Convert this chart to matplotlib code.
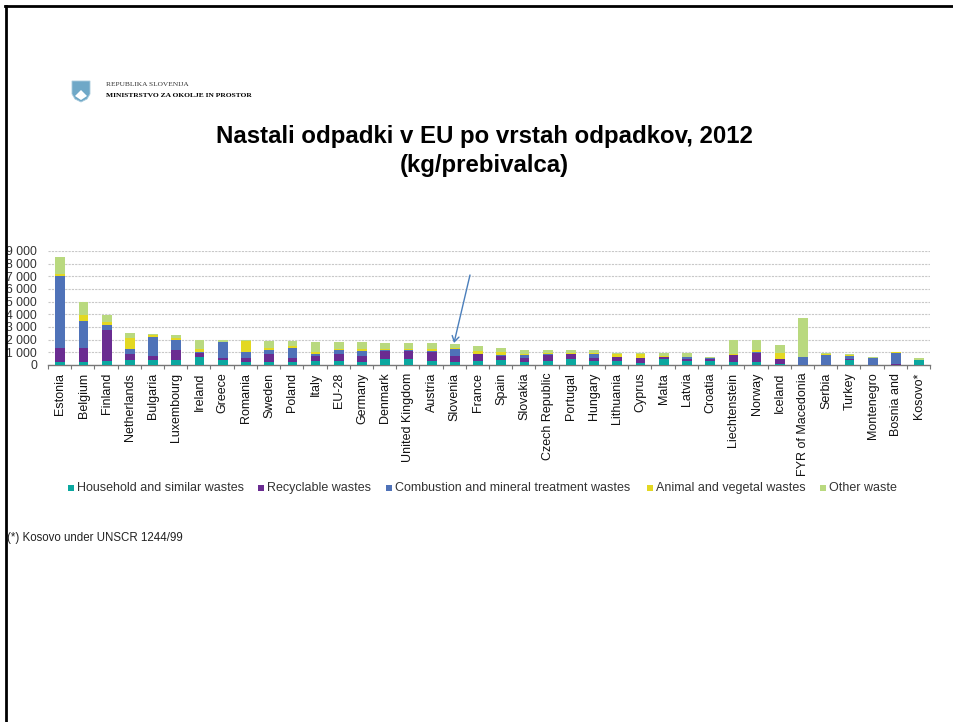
import numpy as np
import matplotlib
matplotlib.use("Agg")
import matplotlib.pyplot as plt
from matplotlib.patches import FancyArrowPatch, Rectangle, Polygon
from matplotlib.lines import Line2D

categories = ["Estonia", "Belgium", "Finland", "Netherlands", "Bulgaria", "Luxembourg", "Ireland", "Greece",
              "Romania", "Sweden", "Poland", "Italy", "EU-28", "Germany", "Denmark", "United Kingdom", "Austria",
              "Slovenia", "France", "Spain", "Slovakia", "Czech Republic", "Portugal", "Hungary", "Lithuania",
              "Cyprus", "Malta", "Latvia", "Croatia", "Liechtenstein", "Norway", "Iceland", "FYR of Macedonia",
              "Serbia", "Turkey", "Montenegro", "Bosnia and", "Kosovo*"]
household = [250, 250, 300, 400, 400, 400, 650, 400, 250, 250, 250, 300, 300, 250, 450, 450, 300, 250, 300, 400,
             250, 300, 450, 300, 300, 150, 450, 300, 300, 250, 250, 100, 0, 10, 400, 10, 20, 400]
recyclable = [1100, 1100, 2500, 500, 300, 800, 300, 150, 300, 600, 300, 400, 550, 450, 650, 650, 700, 450, 550, 300,
              300, 500, 400, 250, 300, 400, 150, 150, 150, 550, 700, 350, 20, 10, 50, 10, 80, 5]
combustion = [5700, 2100, 350, 350, 1500, 750, 100, 1250, 450, 300, 800, 200, 350, 400, 100, 100, 100, 550, 50, 100,
              250, 100, 50, 350, 20, 20, 50, 150, 100, 20, 50, 20, 600, 780, 250, 550, 880, 5]
animal = [100, 500, 250, 900, 150, 200, 250, 50, 900, 200, 150, 150, 100, 200, 50, 50, 200, 100, 200, 250,
          100, 50, 50, 50, 280, 280, 50, 50, 20, 80, 200, 480, 20, 80, 50, 10, 20, 10]
other = [1400, 1050, 550, 400, 100, 250, 700, 150, 100, 550, 400, 750, 500, 500, 450, 450, 400, 300, 400, 300,
         300, 250, 200, 200, 50, 100, 250, 300, 30, 1100, 800, 600, 3060, 70, 100, 40, 50, 130]
series_names = ["Household and similar wastes", "Recyclable wastes", "Combustion and mineral treatment wastes",
                "Animal and vegetal wastes", "Other waste"]
series_values = [household, recyclable, combustion, animal, other]
series_colors = ["#0BA8A0", "#6A2C91", "#4F72B8", "#E3D822", "#B9D97F"]
y_ticks = [0, 1000, 2000, 3000, 4000, 5000, 6000, 7000, 8000, 9000]
y_tick_labels = ["0", "1 000", "2 000", "3 000", "4 000", "5 000", "6 000", "7 000", "8 000", "9 000"]

W, H = 954, 722
plt.rcParams["font.family"] = ["Liberation Sans", "DejaVu Sans"]
fig = plt.figure(figsize=(W / 100, H / 100), dpi=100)
fx = lambda p: p / W
fy = lambda p: 1 - p / H

ax = fig.add_axes([fx(48), fy(365), (930 - 48) / W, (365 - 251) / H])
x = np.arange(len(categories))
bottom = np.zeros(len(categories))
for name, vals, col in zip(series_names, series_values, series_colors):
    vals = np.array(vals, dtype=float)
    ax.bar(x + 0.03, vals, 0.42, bottom=bottom, color=col, label=name, linewidth=0, zorder=3)
    bottom += vals

ax.set_xlim(-0.5, len(categories) - 0.5)
ax.set_ylim(0, 9000)
ax.set_yticks(y_ticks, y_tick_labels, fontsize=8.7, color="#333333")
ax.tick_params(axis="y", length=0, pad=8)
ax.set_xticks(x + 0.03, categories, rotation=90, fontsize=9.0, color="#111111")
ax.tick_params(axis="x", length=0, pad=5.5)
ax.set_xticks(np.arange(-0.5, len(categories)), minor=True)
ax.tick_params(axis="x", which="minor", length=3, width=0.8, color="#777777")
for s in ["top", "right", "left"]:
    ax.spines[s].set_visible(False)
ax.spines["bottom"].set_color("#777777")
ax.spines["bottom"].set_linewidth(1.0)
ax.yaxis.grid(True, linestyle=(0, (2, 1)), color="#C8C8C8", linewidth=0.8, zorder=0)
ax.set_axisbelow(True)

# legend, one entry placed at a time to keep the original spacing
legend_x = [68, 258, 386, 647, 820]
for lx, name, col in zip(legend_x, series_names, series_colors):
    fig.add_artist(Rectangle((fx(lx), fy(490.5)), 6 / W, 6 / H, transform=fig.transFigure, color=col, lw=0))
    t = fig.text(fx(lx + 9), fy(488), name, fontsize=9.0, color="#333333", va="center", ha="left")

fig.text(fx(484.5), fy(136.5), "Nastali odpadki v EU po vrstah odpadkov, 2012", fontsize=17.3, fontweight="bold",
         ha="center", va="center", color="black")
fig.text(fx(484.5), fy(165.5), "(kg/prebivalca)", fontsize=17.3, fontweight="bold", ha="center", va="center", color="black")
fig.text(fx(7), fy(538), "(*) Kosovo under UNSCR 1244/99", fontsize=8.3, ha="left", va="center", color="#222222")

# ministry header
fig.text(fx(106), fy(85), "REPUBLIKA SLOVENIJA", fontsize=5.35, family=["Liberation Serif"], ha="left", va="center",
         color="#333333")
fig.text(fx(106), fy(95.5), "MINISTRSTVO ZA OKOLJE IN PROSTOR", fontsize=5.4, family=["Liberation Serif"],
         fontweight="bold", ha="left", va="center", color="black")
shield = [(72, 81), (90, 81), (90, 94), (87, 99), (81, 102), (75, 99), (72, 94)]
fig.add_artist(Polygon([(fx(a), fy(b)) for a, b in shield], closed=True, transform=fig.transFigure,
                       facecolor="#6FA8C7", edgecolor="#A9CBDD", lw=0.6))
peak = [(75, 96), (81, 90), (87, 96), (81, 100)]
fig.add_artist(Polygon([(fx(a), fy(b)) for a, b in peak], closed=True, transform=fig.transFigure,
                       facecolor="white", edgecolor="none"))

# arrow pointing at Slovenia
fig.add_artist(FancyArrowPatch((fx(470), fy(275)), (fx(454), fy(343)), transform=fig.transFigure,
                               arrowstyle="->,head_length=4,head_width=2.5", color="#4A7EBB", lw=1.0,
                               shrinkA=0, shrinkB=0))

# slide frame
fig.add_artist(Line2D([fx(6), fx(6)], [0, fy(6)], transform=fig.transFigure, color="black", lw=2.0))
fig.add_artist(Line2D([fx(5), 1], [fy(6), fy(6)], transform=fig.transFigure, color="black", lw=2.0))

fig.savefig("out.png", dpi=100)
